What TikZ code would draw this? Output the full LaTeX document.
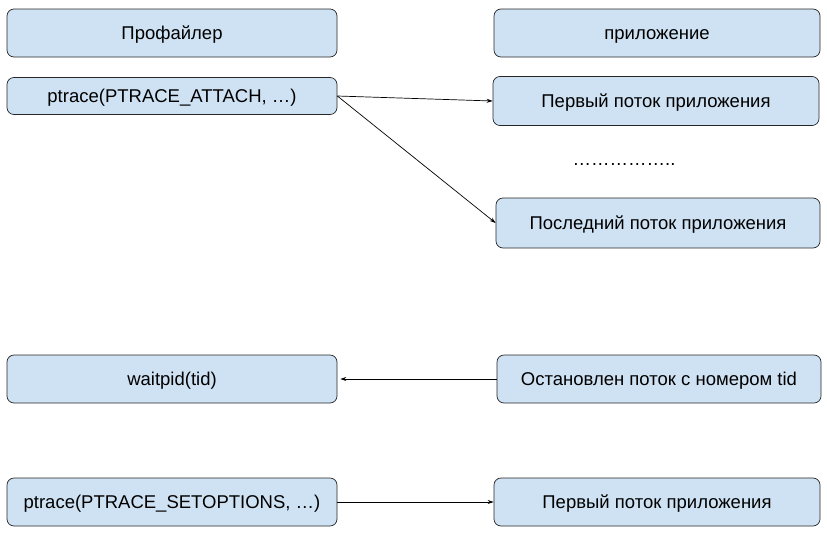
\documentclass[tikz,border=0pt]{standalone}
\usepackage{fontspec}
\setmainfont{Liberation Sans}
\usepackage{xcolor}
\usetikzlibrary{positioning, arrows.meta}
\definecolor{boxfill}{HTML}{CFE2F3}
\definecolor{boxline}{HTML}{262626}

\begin{document}
\begin{tikzpicture}[x=1pt, y=-1pt, >={Stealth[length=6pt, width=4pt]},
                    semithick, line width=0.7pt,
                    box/.style={draw=boxline, fill=boxfill, rounded corners=7pt,
                                minimum height=48pt, inner sep=0pt,
                                text height=13pt, text depth=0pt,
                                font=\fontsize{18.5}{22}\selectfont},
                    left box/.style={box, minimum width=330pt},
                    right box/.style={box, minimum width=326pt}]
    \useasboundingbox (0,0) rectangle (827,541);
    \node[left box] (prof) at (172,33) {Профайлер};
    \node[right box] (app) at (657,33) {приложение};
    \node[left box, minimum height=37pt] (attach) at (172,96) {ptrace(PTRACE\_ATTACH, …)};
    \node[right box, minimum height=49pt] (thr1) at (656,101) {Первый поток приложения};
    \node[font=\fontsize{18.5}{22}\selectfont] (dots) at (624,165) {……………..};
    \node[right box, minimum width=324pt, minimum height=50pt] (thrN) at (658,223) {Последний поток приложения};
    \node[left box] (wait) at (172,379) {waitpid(tid)};
    \node[right box, minimum width=324pt] (stopped) at (659,379) {Остановлен поток с номером tid};
    \node[left box] (setopt) at (172,502) {ptrace(PTRACE\_SETOPTIONS, …)};
    \node[right box] (thr1b) at (657,502) {Первый поток приложения};
    \path[->]
      (attach.east) edge (thr1.west)
      (attach.east) edge (thrN.west)
      (stopped.west) edge[shorten >=3pt] (wait.east)
      (setopt.east) edge (thr1b.west);
\end{tikzpicture}
\end{document}
